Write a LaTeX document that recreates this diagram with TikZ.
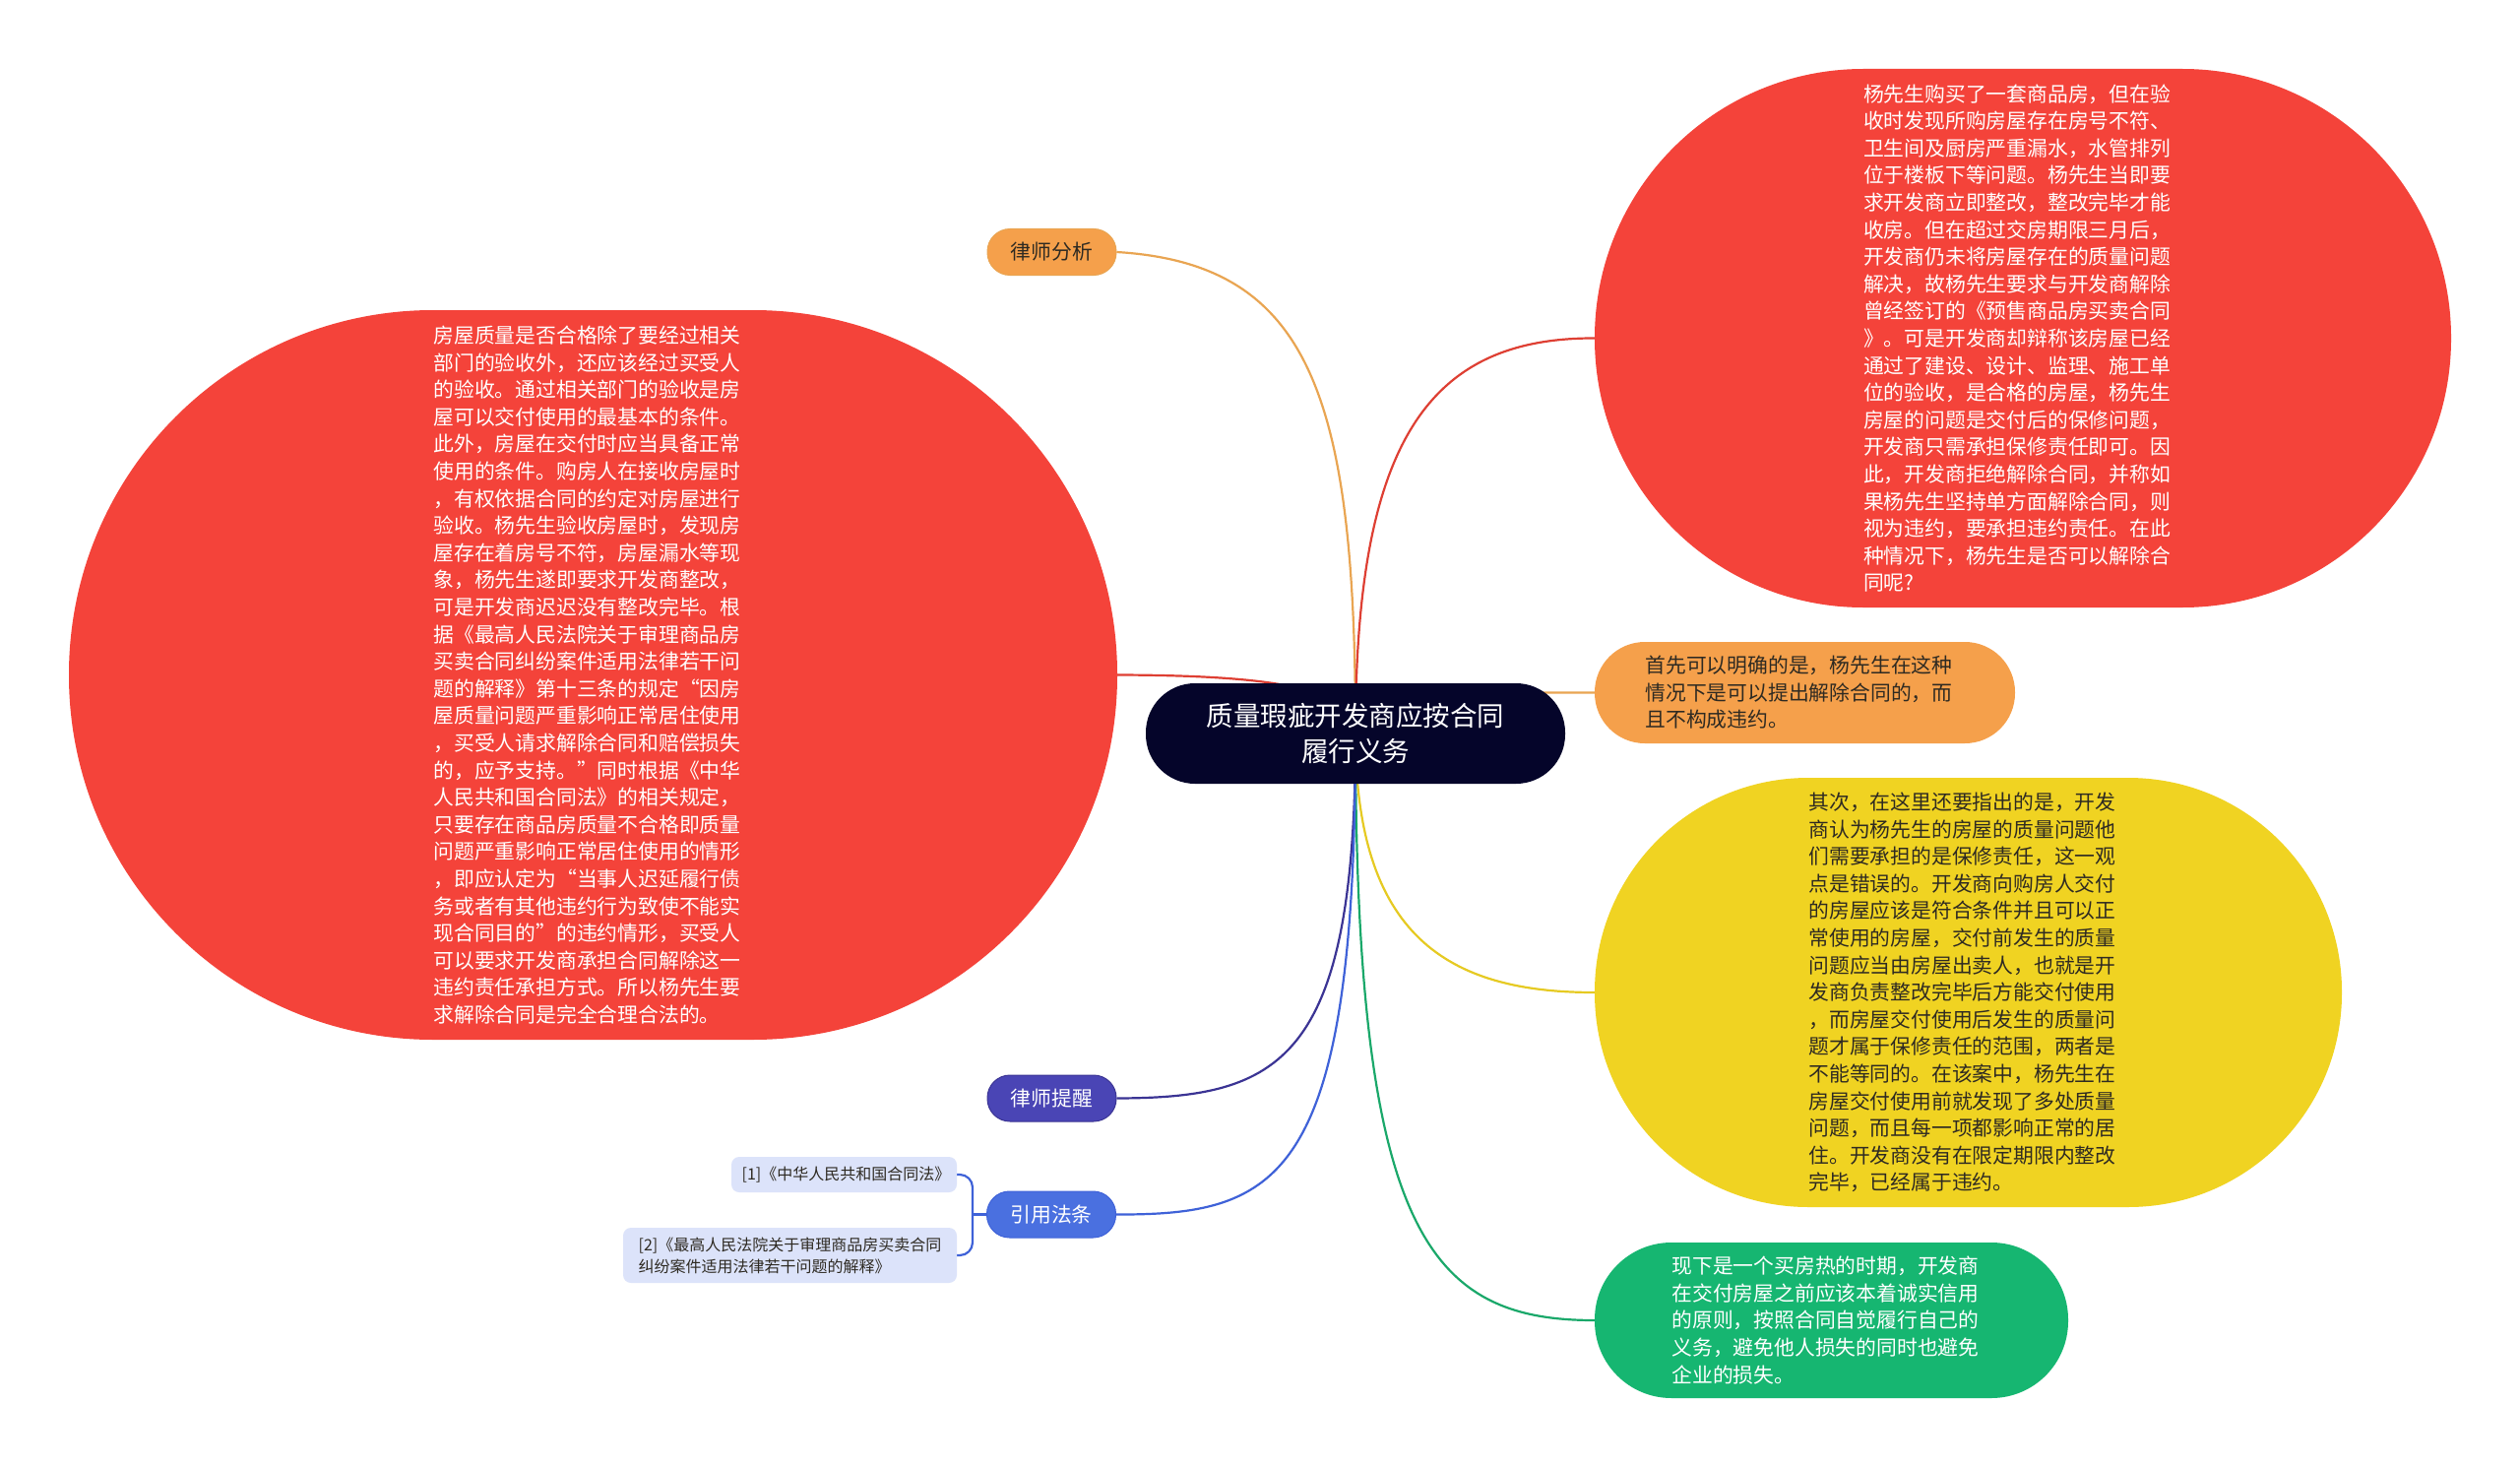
\documentclass[tikz,border=0pt]{standalone}
\usepackage{fontspec}
\setmainfont{Noto Sans CJK SC}
\usetikzlibrary{backgrounds}
\definecolor{cdark}{HTML}{05052A}
\definecolor{cred}{HTML}{F4433A}
\definecolor{corange}{HTML}{F5A04B}
\definecolor{cyellow}{HTML}{F0D322}
\definecolor{cgreen}{HTML}{16B671}
\definecolor{cindigo}{HTML}{4A45B5}
\definecolor{cblue}{HTML}{4A70E0}
\definecolor{cref}{HTML}{DCE3FA}
\definecolor{ctxt}{HTML}{2E2A22}
\definecolor{lorange}{HTML}{E9A552}
\definecolor{lred}{HTML}{DE3F33}
\definecolor{lyellow}{HTML}{E6CA22}
\definecolor{lgreen}{HTML}{1AA86A}
\definecolor{lindigo}{HTML}{3B3494}
\definecolor{lblue}{HTML}{3F62D8}
\tikzset{
  bigbox/.style={inner sep=0pt, align=left, text width=324pt, font=\fontsize{20.8}{27.6}\selectfont},
  tagbox/.style={inner sep=0pt, align=center, font=\fontsize{20.8}{26}\selectfont,
     minimum width=131pt, minimum height=47pt, rounded corners=23pt},
  refbox/.style={inner sep=0pt, fill=cref, text=ctxt, rounded corners=8pt,
     font=\fontsize{16}{22}\selectfont},
  link/.style={line width=2.2pt}
}
\begin{document}
\begin{tikzpicture}[x=1pt,y=-1pt]
\useasboundingbox (0,0) rectangle (2560,1490);

% central node
\node[fill=cdark, text=white, inner sep=0pt, align=center,
  minimum width=426pt, minimum height=102pt, rounded corners=50pt,
  font=\fontsize{27.5}{36}\selectfont] (c) at (1377,745)
  {质量瑕疵开发商应按合同\\履行义务};

% left big red
\node[bigbox, fill=cred, text=white, minimum width=1065pt, minimum height=741pt,
  rounded corners=370pt] (l1) at (602.5,685.5)
{房屋质量是否合格除了要经过相关\\
部门的验收外，还应该经过买受人\\
的验收。通过相关部门的验收是房\\
屋可以交付使用的最基本的条件。\\
此外，房屋在交付时应当具备正常\\
使用的条件。购房人在接收房屋时\\
，有权依据合同的约定对房屋进行\\
验收。杨先生验收房屋时，发现房\\
屋存在着房号不符，房屋漏水等现\\
象，杨先生遂即要求开发商整改，\\
可是开发商迟迟没有整改完毕。根\\
据《最高人民法院关于审理商品房\\
买卖合同纠纷案件适用法律若干问\\
题的解释》第十三条的规定“因房\\
屋质量问题严重影响正常居住使用\\
，买受人请求解除合同和赔偿损失\\
的，应予支持。”同时根据《中华\\
人民共和国合同法》的相关规定，\\
只要存在商品房质量不合格即质量\\
问题严重影响正常居住使用的情形\\
，即应认定为“当事人迟延履行债\\
务或者有其他违约行为致使不能实\\
现合同目的”的违约情形，买受人\\
可以要求开发商承担合同解除这一\\
违约责任承担方式。所以杨先生要\\
求解除合同是完全合理合法的。};

% right big red
\node[bigbox, fill=cred, text=white, minimum width=870pt, minimum height=547pt,
  rounded corners=273pt] (r1) at (2055,343.5)
{杨先生购买了一套商品房，但在验\\
收时发现所购房屋存在房号不符、\\
卫生间及厨房严重漏水，水管排列\\
位于楼板下等问题。杨先生当即要\\
求开发商立即整改，整改完毕才能\\
收房。但在超过交房期限三月后，\\
开发商仍未将房屋存在的质量问题\\
解决，故杨先生要求与开发商解除\\
曾经签订的《预售商品房买卖合同\\
》。可是开发商却辩称该房屋已经\\
通过了建设、设计、监理、施工单\\
位的验收，是合格的房屋，杨先生\\
房屋的问题是交付后的保修问题，\\
开发商只需承担保修责任即可。因\\
此，开发商拒绝解除合同，并称如\\
果杨先生坚持单方面解除合同，则\\
视为违约，要承担违约责任。在此\\
种情况下，杨先生是否可以解除合\\
同呢?};

% orange
\node[bigbox, fill=corange, text=ctxt, minimum width=427pt, minimum height=103pt,
  rounded corners=51pt] (o1) at (1833.5,703.5)
{首先可以明确的是，杨先生在这种\\
情况下是可以提出解除合同的，而\\
且不构成违约。};

% yellow
\node[bigbox, fill=cyellow, text=ctxt, minimum width=759pt, minimum height=436pt,
  rounded corners=217pt] (y1) at (1999.5,1008)
{其次，在这里还要指出的是，开发\\
商认为杨先生的房屋的质量问题他\\
们需要承担的是保修责任，这一观\\
点是错误的。开发商向购房人交付\\
的房屋应该是符合条件并且可以正\\
常使用的房屋，交付前发生的质量\\
问题应当由房屋出卖人，也就是开\\
发商负责整改完毕后方能交付使用\\
，而房屋交付使用后发生的质量问\\
题才属于保修责任的范围，两者是\\
不能等同的。在该案中，杨先生在\\
房屋交付使用前就发现了多处质量\\
问题，而且每一项都影响正常的居\\
住。开发商没有在限定期限内整改\\
完毕，已经属于违约。};

% green
\node[bigbox, fill=cgreen, text=white, minimum width=481pt, minimum height=158pt,
  rounded corners=78pt] (g1) at (1860.5,1341)
{现下是一个买房热的时期，开发商\\
在交付房屋之前应该本着诚实信用\\
的原则，按照合同自觉履行自己的\\
义务，避免他人损失的同时也避免\\
企业的损失。};

% small tags
\node[tagbox, fill=corange, draw=lorange, line width=1pt, text=ctxt] (a1) at (1068.5,256) {律师分析};
\node[tagbox, fill=cindigo, draw=lindigo, line width=1pt, text=white] (t1) at (1068.5,1115.5) {律师提醒};
\node[tagbox, fill=cblue, draw=lblue, line width=1pt, text=white] (q1) at (1068,1233.5) {引用法条};

% references
\node[refbox, minimum width=229pt, minimum height=36pt] (f1) at (857.5,1193)
  {\hspace*{4pt}[1]《中华人民共和国合同法》};
\node[refbox, minimum width=339pt, minimum height=56pt, align=left] (f2) at (802.5,1275)
  {[2]《最高人民法院关于审理商品房买卖合同\\纠纷案件适用法律若干问题的解释》\hspace*{20pt}};

% connectors
\begin{scope}[on background layer]
\fill[white] (0,0) rectangle (2560,1490);
\draw[link, lorange] (c.center) .. controls (1377,400) and (1330,268) .. (a1.east);
\draw[link, lred] (c.center) .. controls (1377,450) and (1450,343) .. (r1.west);
\draw[link, lred] (c.center) .. controls (1377,700) and (1300,686) .. (l1.east);
\draw[link, lorange] (c.center) .. controls (1420,703) and (1500,703) .. (o1.west);
\draw[link, lyellow] (c.center) .. controls (1377,950) and (1470,1008) .. (y1.west);
\draw[link, lgreen] (c.center) .. controls (1377,1250) and (1450,1341) .. (g1.west);
\draw[link, lindigo] (c.center) .. controls (1377,1080) and (1300,1115) .. (t1.east);
\draw[link, lblue] (c.center) .. controls (1377,1200) and (1300,1234) .. (q1.east);
\coordinate (br) at (988,1233.5);
\draw[link, lblue, rounded corners=13pt] (f1.east) -| (br) |- (f2.east);
\draw[link, lblue] (br) -- (q1.west);
\end{scope}
\end{tikzpicture}
\end{document}
